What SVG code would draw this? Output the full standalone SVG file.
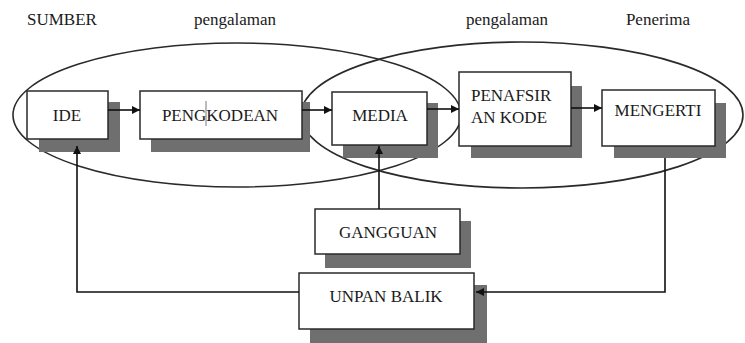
<svg xmlns="http://www.w3.org/2000/svg" width="745" height="343" viewBox="0 0 745 343">
<defs>
<style>
.t{font-family:"Liberation Serif","Times New Roman",serif;font-size:17px;fill:#1a1a1a}
.c{text-anchor:middle}
.box{fill:#fff;stroke:#2a2a2a;stroke-width:1.5}
.sh{fill:#6f6f6f}
.ell{fill:none;stroke:#2a2a2a;stroke-width:1.6}
.ln{fill:none;stroke:#111;stroke-width:1.6}
</style>
<marker id="ah" viewBox="0 0 10 10" refX="10" refY="5" markerWidth="8" markerHeight="8" markerUnits="userSpaceOnUse" orient="auto">
<path d="M0,0 L10,5 L0,10 z" fill="#111"/>
</marker>
</defs>
<rect width="745" height="343" fill="#fff"/>
<g id="labels">
<text class="t" x="27" y="25">SUMBER</text>
<text class="t c" x="235" y="25">pengalaman</text>
<text class="t c" x="507" y="25">pengalaman</text>
<text class="t c" x="658" y="25">Penerima</text>
</g>
<g id="ellipses">
<ellipse class="ell" cx="237" cy="115" rx="224" ry="72"/>
<ellipse class="ell" cx="522" cy="115" rx="221" ry="73"/>
</g>
<g id="ide">
<rect class="sh" x="39" y="102" width="81" height="50"/>
<rect class="box" x="27" y="91" width="81" height="48"/>
<text class="t c" x="67" y="121">IDE</text>
</g>
<g id="pengkodean">
<rect class="sh" x="151" y="102" width="159" height="50"/>
<rect class="box" x="140" y="91" width="162" height="48"/>
<text class="t c" x="220" y="121">PENGKODEAN</text>
<line x1="206" y1="101" x2="206" y2="126" stroke="#555" stroke-width="0.8"/>
</g>
<g id="media">
<rect class="sh" x="343" y="103" width="95" height="55"/>
<rect class="box" x="332" y="92" width="95" height="53"/>
<text class="t c" x="380" y="121">MEDIA</text>
</g>
<g id="penafsiran">
<rect class="sh" x="471" y="86" width="111" height="72"/>
<rect class="box" x="459" y="72" width="112" height="74"/>
<text class="t" x="471" y="101">PENAFSIR</text>
<text class="t" x="471" y="123">AN KODE</text>
</g>
<g id="mengerti">
<rect class="sh" x="614" y="103" width="112" height="55"/>
<rect class="box" x="602" y="90" width="113" height="56"/>
<text class="t c" x="658" y="116">MENGERTI</text>
</g>
<g id="gangguan">
<rect class="sh" x="325" y="221" width="146" height="47"/>
<rect class="box" x="315" y="209" width="145" height="45"/>
<text class="t c" x="388" y="238">GANGGUAN</text>
</g>
<g id="unpanbalik">
<rect class="sh" x="310" y="285" width="177" height="58"/>
<rect class="box" x="299" y="273" width="175" height="56"/>
<text class="t c" x="386" y="302">UNPAN BALIK</text>
</g>
<g id="connectors">
<line class="ln" x1="108" y1="110" x2="140" y2="110" marker-end="url(#ah)"/>
<line class="ln" x1="302" y1="110" x2="332" y2="110" marker-end="url(#ah)"/>
<line class="ln" x1="427" y1="109" x2="459" y2="109" marker-end="url(#ah)"/>
<line class="ln" x1="571" y1="108" x2="602" y2="108" marker-end="url(#ah)"/>
<line class="ln" x1="379" y1="209" x2="379" y2="146" marker-end="url(#ah)"/>
<polyline class="ln" points="665,158 665,292 476,292" marker-end="url(#ah)"/>
<polyline class="ln" points="299,292 77,292 77,146" marker-end="url(#ah)"/>
</g>
</svg>
